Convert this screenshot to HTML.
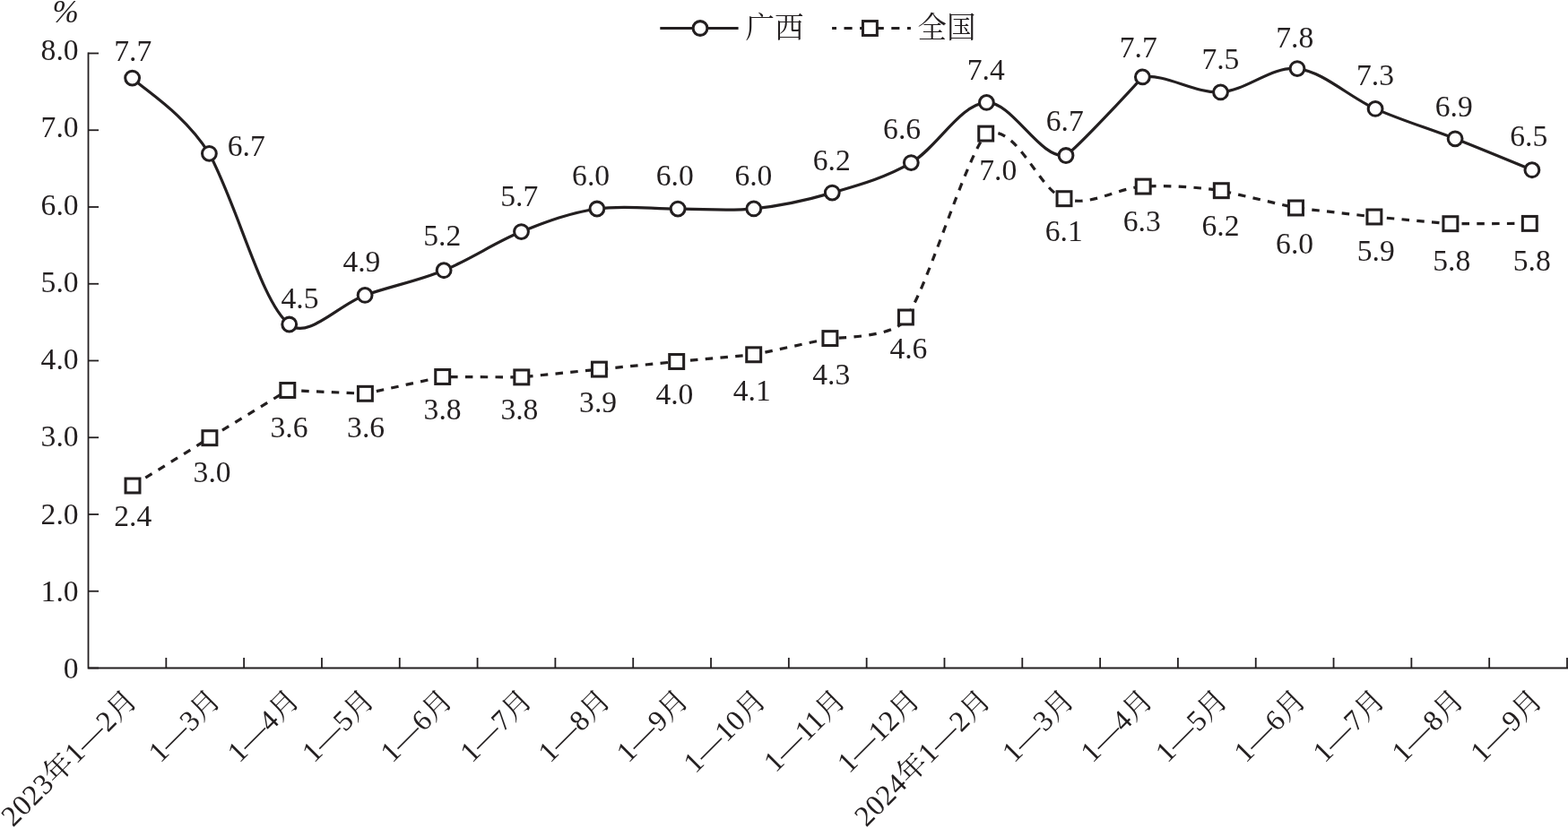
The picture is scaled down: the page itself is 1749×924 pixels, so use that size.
<!DOCTYPE html>
<html lang="zh-CN"><head><meta charset="utf-8"><title>chart</title>
<style>html,body{margin:0;padding:0;background:#fff}svg{display:block}text{font-family:"Liberation Serif","Noto Serif CJK SC",serif;fill:#231f20}</style></head><body>
<svg width="1749" height="924" viewBox="0 0 1749 924">
<rect width="1749" height="924" fill="#fff"/>
<g stroke="#231f20" stroke-width="1.8" fill="none" stroke-linecap="butt">
<path d="M98.50 58.60 V745.50 H1749"/>
<path d="M98.50 659.75 h11.50"/>
<path d="M98.50 574.00 h11.50"/>
<path d="M98.50 488.25 h11.50"/>
<path d="M98.50 402.50 h11.50"/>
<path d="M98.50 316.75 h11.50"/>
<path d="M98.50 231.00 h11.50"/>
<path d="M98.50 145.25 h11.50"/>
<path d="M98.50 59.50 h11.50"/>
<path d="M98.50 745.50 h11.50"/>
<path d="M185.32 745.50 v-11.50"/>
<path d="M272.13 745.50 v-11.50"/>
<path d="M358.95 745.50 v-11.50"/>
<path d="M445.76 745.50 v-11.50"/>
<path d="M532.58 745.50 v-11.50"/>
<path d="M619.39 745.50 v-11.50"/>
<path d="M706.21 745.50 v-11.50"/>
<path d="M793.03 745.50 v-11.50"/>
<path d="M879.84 745.50 v-11.50"/>
<path d="M966.66 745.50 v-11.50"/>
<path d="M1053.47 745.50 v-11.50"/>
<path d="M1140.29 745.50 v-11.50"/>
<path d="M1227.11 745.50 v-11.50"/>
<path d="M1313.92 745.50 v-11.50"/>
<path d="M1400.74 745.50 v-11.50"/>
<path d="M1487.55 745.50 v-11.50"/>
<path d="M1574.37 745.50 v-11.50"/>
<path d="M1661.18 745.50 v-11.50"/>
<path d="M1748.00 745.50 v-11.50"/>
</g>
<g font-size="33.6" text-anchor="end">
<text x="87.6" y="757.20">0</text>
<text x="87.6" y="670.95">1.0</text>
<text x="87.6" y="584.70">2.0</text>
<text x="87.6" y="498.45">3.0</text>
<text x="87.6" y="412.20">4.0</text>
<text x="87.6" y="325.95">5.0</text>
<text x="87.6" y="239.70">6.0</text>
<text x="87.6" y="153.45">7.0</text>
<text x="87.6" y="67.20">8.0</text>
</g>
<text x="58.6" y="24.6" font-size="35.2" font-style="italic">%</text>
<g stroke="#231f20" stroke-width="3.1" fill="none">
<path d="M736.3 31.5 H823.6"/>
<path d="M928.1 31.5 H1015.9" stroke-dasharray="9.1 8.5" stroke-dashoffset="4.2"/>
</g>
<circle cx="781" cy="31.5" r="7.9" fill="#fff" stroke="#231f20" stroke-width="3.1"/>
<rect x="962.45" y="23.55" width="15.9" height="15.9" fill="#fff" stroke="#231f20" stroke-width="3"/>
<text x="831.5" y="41.6" font-size="32.5">广西</text>
<text x="1023.5" y="41.6" font-size="32.5">全国</text>
<path d="M147.60 87.10 C161.90 101.13 204.22 125.48 233.40 171.30 C266.40 233.30 291.70 338.00 322.70 362.00 C342.42 379.88 378.37 339.45 407.10 329.40 C435.83 319.35 466.03 313.50 495.10 301.70 C524.17 289.90 553.03 270.05 581.50 258.60 C609.97 247.15 636.80 237.25 665.90 233.00 C695.00 228.75 726.95 233.12 756.10 233.10 C785.25 233.08 812.10 235.90 840.80 232.90 C869.50 229.90 899.05 223.65 928.30 215.10 C957.55 206.55 987.62 198.38 1016.30 181.60 C1044.98 164.82 1071.62 115.75 1100.40 114.40 C1129.18 113.05 1160.00 178.25 1189.00 173.50 C1203.00 163.50 1261.40 100.40 1274.40 85.90 C1300.40 81.90 1332.73 104.45 1361.50 102.90 C1390.27 101.35 1418.23 73.52 1447.00 76.60 C1475.77 79.68 1504.75 108.37 1534.10 121.40 C1563.45 134.43 1593.97 143.42 1623.10 154.80 C1652.23 166.18 1694.60 183.88 1708.90 189.70" fill="none" stroke="#231f20" stroke-width="3.2" stroke-linejoin="round"/>
<path d="M148.00 542.00 L233.90 488.70 L320.80 435.50 L407.40 439.30 L493.70 420.50 L581.80 420.90 L668.40 412.10 L754.70 403.50 L840.70 395.80 L925.90 377.60 C951.90 376.30 1004.40 374.00 1010.40 354.00 C1032.40 328.40 1073.70 184.40 1099.70 149.10 C1134.70 137.10 1157.75 211.87 1187.00 221.70 C1216.25 231.53 1245.98 209.60 1275.20 208.10 C1304.42 206.60 1333.92 208.72 1362.30 212.70 L1445.50 232.00 L1532.90 242.00 L1617.90 249.70 L1706.30 249.40" fill="none" stroke="#231f20" stroke-width="3.2" stroke-dasharray="8.5 8.3" stroke-linejoin="round"/>
<g fill="#fff" stroke="#231f20" stroke-width="3.05">
<circle cx="147.6" cy="87.1" r="7.9"/>
<circle cx="233.4" cy="171.3" r="7.9"/>
<circle cx="322.7" cy="362.0" r="7.9"/>
<circle cx="407.1" cy="329.4" r="7.9"/>
<circle cx="495.1" cy="301.7" r="7.9"/>
<circle cx="581.5" cy="258.6" r="7.9"/>
<circle cx="665.9" cy="233.0" r="7.9"/>
<circle cx="756.1" cy="233.1" r="7.9"/>
<circle cx="840.8" cy="232.9" r="7.9"/>
<circle cx="928.3" cy="215.1" r="7.9"/>
<circle cx="1016.3" cy="181.6" r="7.9"/>
<circle cx="1100.4" cy="114.4" r="7.9"/>
<circle cx="1189.0" cy="173.5" r="7.9"/>
<circle cx="1274.4" cy="85.9" r="7.9"/>
<circle cx="1361.5" cy="102.9" r="7.9"/>
<circle cx="1447.0" cy="76.6" r="7.9"/>
<circle cx="1534.1" cy="121.4" r="7.9"/>
<circle cx="1623.1" cy="154.8" r="7.9"/>
<circle cx="1708.9" cy="189.7" r="7.9"/>
<rect x="140.05" y="534.05" width="15.9" height="15.9"/>
<rect x="225.95" y="480.75" width="15.9" height="15.9"/>
<rect x="312.85" y="427.55" width="15.9" height="15.9"/>
<rect x="399.45" y="431.35" width="15.9" height="15.9"/>
<rect x="485.75" y="412.55" width="15.9" height="15.9"/>
<rect x="573.85" y="412.95" width="15.9" height="15.9"/>
<rect x="660.45" y="404.15" width="15.9" height="15.9"/>
<rect x="746.75" y="395.55" width="15.9" height="15.9"/>
<rect x="832.75" y="387.85" width="15.9" height="15.9"/>
<rect x="917.95" y="369.65" width="15.9" height="15.9"/>
<rect x="1002.45" y="346.05" width="15.9" height="15.9"/>
<rect x="1091.75" y="141.15" width="15.9" height="15.9"/>
<rect x="1179.05" y="213.75" width="15.9" height="15.9"/>
<rect x="1267.25" y="200.15" width="15.9" height="15.9"/>
<rect x="1354.35" y="204.75" width="15.9" height="15.9"/>
<rect x="1437.55" y="224.05" width="15.9" height="15.9"/>
<rect x="1524.95" y="234.05" width="15.9" height="15.9"/>
<rect x="1609.95" y="241.75" width="15.9" height="15.9"/>
<rect x="1698.35" y="241.45" width="15.9" height="15.9"/>
</g>
<g font-size="33.6" text-anchor="middle">
<text x="148.3" y="67.5">7.7</text>
<text x="274.8" y="173.9">6.7</text>
<text x="334.5" y="344.3">4.5</text>
<text x="403.4" y="302.6">4.9</text>
<text x="493.3" y="274.3">5.2</text>
<text x="579.3" y="229.5">5.7</text>
<text x="659.1" y="207.4">6.0</text>
<text x="752.8" y="207.4">6.0</text>
<text x="840.4" y="207.4">6.0</text>
<text x="927.8" y="190.2">6.2</text>
<text x="1006.1" y="154.7">6.6</text>
<text x="1099.8" y="88.7">7.4</text>
<text x="1187.8" y="146.0">6.7</text>
<text x="1269.8" y="63.9">7.7</text>
<text x="1361.4" y="76.5">7.5</text>
<text x="1444.2" y="53.3">7.8</text>
<text x="1534.0" y="95.0">7.3</text>
<text x="1621.8" y="130.2">6.9</text>
<text x="1705.3" y="162.8">6.5</text>
<text x="148.2" y="587.1">2.4</text>
<text x="236.6" y="537.8">3.0</text>
<text x="322.5" y="488.4">3.6</text>
<text x="408.1" y="488.4">3.6</text>
<text x="493.6" y="468.2">3.8</text>
<text x="579.4" y="468.2">3.8</text>
<text x="667.1" y="459.7">3.9</text>
<text x="752.4" y="451.0">4.0</text>
<text x="838.7" y="446.6">4.1</text>
<text x="927.2" y="428.6">4.3</text>
<text x="1013.4" y="399.9">4.6</text>
<text x="1113.2" y="201.0">7.0</text>
<text x="1186.8" y="269.3">6.1</text>
<text x="1273.7" y="257.8">6.3</text>
<text x="1361.5" y="263.4">6.2</text>
<text x="1444.1" y="283.1">6.0</text>
<text x="1534.8" y="291.4">5.9</text>
<text x="1619.3" y="301.9">5.8</text>
<text x="1708.8" y="301.9">5.8</text>
</g>
<g font-size="32.4" text-anchor="end">
<text transform="translate(155.3 782.9) rotate(-45)" letter-spacing="0.55">2023年1—2月</text>
<text transform="translate(248.1 782.9) rotate(-45)" letter-spacing="0.25">1—3月</text>
<text transform="translate(336.1 782.9) rotate(-45)" letter-spacing="0.25">1—4月</text>
<text transform="translate(419.5 782.9) rotate(-45)" letter-spacing="0.25">1—5月</text>
<text transform="translate(506.9 782.9) rotate(-45)" letter-spacing="0.25">1—6月</text>
<text transform="translate(595.6 782.9) rotate(-45)" letter-spacing="0.25">1—7月</text>
<text transform="translate(683.0 782.9) rotate(-45)" letter-spacing="0.25">1—8月</text>
<text transform="translate(770.1 782.9) rotate(-45)" letter-spacing="0.25">1—9月</text>
<text transform="translate(856.6 782.9) rotate(-45)" letter-spacing="0.25">1—10月</text>
<text transform="translate(945.3 782.9) rotate(-45)" letter-spacing="0.25">1—11月</text>
<text transform="translate(1028.0 782.9) rotate(-45)" letter-spacing="0.25">1—12月</text>
<text transform="translate(1107.2 782.9) rotate(-45)" letter-spacing="0.55">2024年1—2月</text>
<text transform="translate(1200.3 782.9) rotate(-45)" letter-spacing="0.25">1—3月</text>
<text transform="translate(1288.0 782.9) rotate(-45)" letter-spacing="0.25">1—4月</text>
<text transform="translate(1371.4 782.9) rotate(-45)" letter-spacing="0.25">1—5月</text>
<text transform="translate(1458.8 782.9) rotate(-45)" letter-spacing="0.25">1—6月</text>
<text transform="translate(1546.8 782.9) rotate(-45)" letter-spacing="0.25">1—7月</text>
<text transform="translate(1634.9 782.9) rotate(-45)" letter-spacing="0.25">1—8月</text>
<text transform="translate(1722.7 782.9) rotate(-45)" letter-spacing="0.25">1—9月</text>
</g>
</svg></body></html>
